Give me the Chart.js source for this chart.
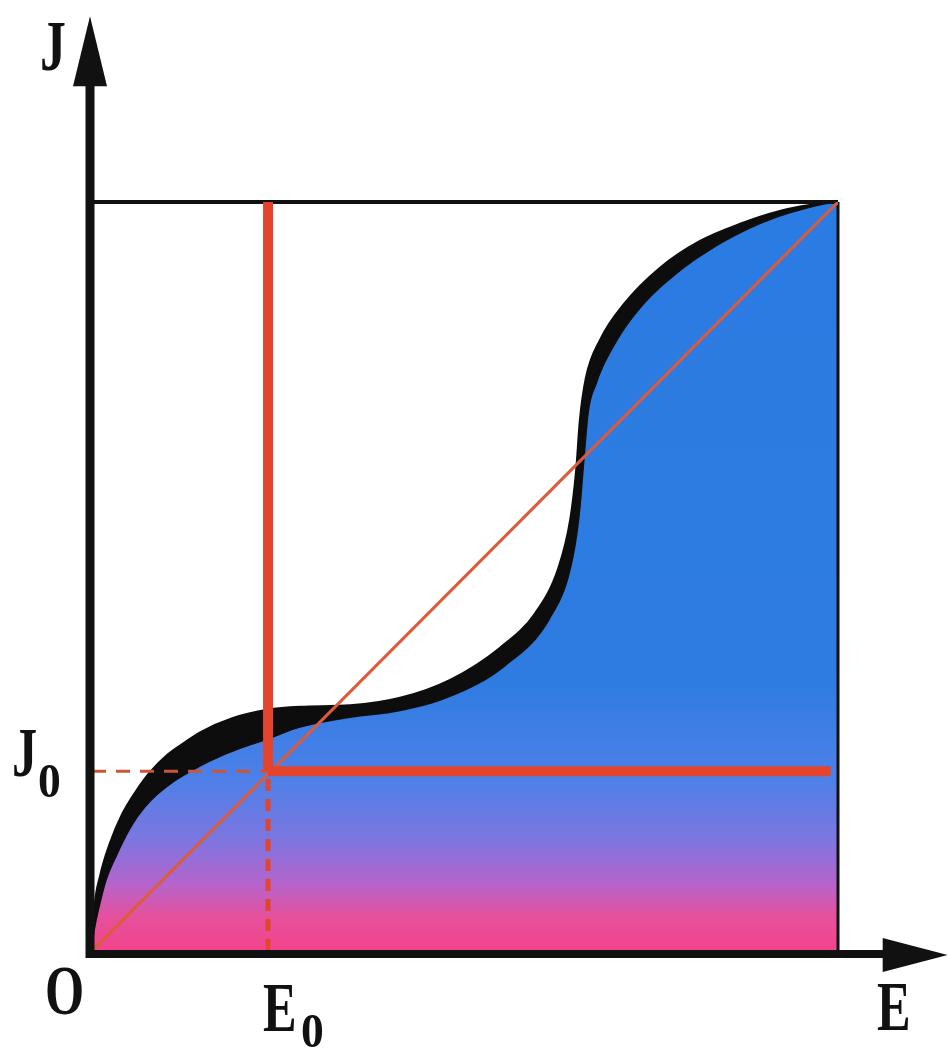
<!DOCTYPE html>
<html>
<head>
<meta charset="utf-8">
<script src="https://cdn.jsdelivr.net/npm/chart.js@4.4.1/dist/chart.umd.min.js"></script>
<style>
  html, body { margin: 0; padding: 0; background: #fff; }
  #wrap { width: 948px; height: 1050px; position: relative; }
</style>
</head>
<body>
<div id="wrap"><canvas id="mycanvas"></canvas></div>
<script>
// operating point
const E0 = 0.236;
const J0 = 0.24;

// outer (black) edge of the J(E) curve
const outerE = [0, 0.003, 0.011, 0.024, 0.040, 0.058, 0.078, 0.101, 0.125, 0.145, 0.189, 0.235, 0.279, 0.346, 0.413, 0.480, 0.547, 0.594, 0.625, 0.641, 0.649, 0.654, 0.662, 0.681, 0.714, 0.761, 0.815, 0.869, 0.922, 0.962, 1];
const outerJ = [0, 0.055, 0.101, 0.144, 0.182, 0.212, 0.239, 0.262, 0.279, 0.292, 0.311, 0.322, 0.326, 0.328, 0.338, 0.362, 0.405, 0.451, 0.511, 0.576, 0.642, 0.709, 0.765, 0.816, 0.865, 0.912, 0.948, 0.971, 0.988, 0.996, 1];

// inner (blue) edge of the curve
const innerE = [0, 0.004, 0.011, 0.020, 0.034, 0.051, 0.071, 0.101, 0.145, 0.189, 0.235, 0.279, 0.346, 0.413, 0.480, 0.554, 0.614, 0.643, 0.654, 0.660, 0.666, 0.677, 0.701, 0.739, 0.784, 0.828, 0.873, 0.918, 0.962, 1];
const innerJ = [0, 0.028, 0.061, 0.095, 0.128, 0.162, 0.191, 0.219, 0.246, 0.266, 0.282, 0.298, 0.311, 0.320, 0.339, 0.380, 0.443, 0.514, 0.582, 0.652, 0.718, 0.758, 0.809, 0.862, 0.904, 0.935, 0.960, 0.979, 0.992, 1];

const tickLabels = ['O', 'E', 'J'];
const subLabels = [['E', '0'], ['J', '0']];

function pts(xs, ys) {
    let out = [];
    for (let i in xs) out.push({x: xs[i], y: ys[i]});
    return out;
}

const red = 'rgb(228, 68, 44)';

let chartdata = {
    datasets: [
        {
            label: 'vertical E0',
            data: [{x: E0, y: J0}, {x: E0, y: 1}],
            borderColor: red, borderWidth: 10, borderCapStyle: 'butt',
            pointRadius: 0, fill: false, order: 1
        },
        {
            label: 'horizontal J0',
            data: [{x: E0, y: J0}, {x: 0.99, y: J0}],
            borderColor: red, borderWidth: 10, borderCapStyle: 'butt',
            pointRadius: 0, fill: false, order: 1
        },
        {
            label: 'dash E0',
            data: [{x: E0, y: 0}, {x: E0, y: J0}],
            borderColor: 'rgb(225, 70, 45)', borderWidth: 5, borderDash: [12, 8],
            pointRadius: 0, fill: false, order: 2
        },
        {
            label: 'dash J0',
            data: [{x: 0, y: J0}, {x: E0, y: J0}],
            borderColor: 'rgb(205, 85, 55)', borderWidth: 3, borderDash: [14, 10],
            pointRadius: 0, fill: false, order: 2
        },
        {
            label: 'diagonal',
            data: [{x: 0, y: 0}, {x: 1, y: 1}],
            borderColor: 'rgb(218, 92, 60)', borderWidth: 3,
            pointRadius: 0, fill: false, order: 3
        },
        {
            label: 'box top',
            data: [{x: 0, y: 1}, {x: 1, y: 1}],
            borderColor: '#111', borderWidth: 4,
            pointRadius: 0, fill: false, order: 4, clip: false
        },
        {
            label: 'box right',
            data: [{x: 1, y: 0}, {x: 1, y: 1}],
            borderColor: '#111', borderWidth: 3,
            pointRadius: 0, fill: false, order: 4, clip: false
        },
        {
            label: 'inner',
            data: pts(innerE, innerJ),
            borderWidth: 0,
            borderColor: 'rgba(0,0,0,0)',
            cubicInterpolationMode: 'monotone',
            pointRadius: 0,
            fill: 'origin',
            backgroundColor: function(context) {
                const chart = context.chart;
                const area = chart.chartArea;
                if (!area) return '#2b7de2';
                let g = chart.ctx.createLinearGradient(0, area.top, 0, area.bottom);
                g.addColorStop(0, '#2a7be2');
                g.addColorStop(0.64, '#2e7ce1');
                g.addColorStop(0.77, '#4d80e8');
                g.addColorStop(0.85, '#7c76e0');
                g.addColorStop(0.91, '#b464cc');
                g.addColorStop(0.955, '#e6509c');
                g.addColorStop(1, '#f4448c');
                return g;
            },
            order: 5
        },
        {
            label: 'outer',
            data: pts(outerE, outerJ),
            borderWidth: 2,
            borderColor: '#0d0d0d',
            backgroundColor: '#0d0d0d',
            cubicInterpolationMode: 'monotone',
            pointRadius: 0,
            fill: 'origin',
            order: 6
        }
    ]
};

const axesPlugin = {
    id: 'axesPlugin',
    afterDatasetsDraw(chart) {
        const ctx = chart.ctx;
        const xs = chart.scales.x, ys = chart.scales.y;
        const ox = xs.getPixelForValue(0) - 2;
        const oy = ys.getPixelForValue(0) + 3;
        const topTip = ys.getPixelForValue(1.248);
        const rightTip = xs.getPixelForValue(1.147);

        ctx.save();
        ctx.fillStyle = '#111';
        ctx.strokeStyle = '#111';
        ctx.lineWidth = 9;
        ctx.beginPath();
        ctx.moveTo(ox, oy + 4);
        ctx.lineTo(ox, topTip + 68);
        ctx.stroke();
        ctx.lineWidth = 8;
        ctx.beginPath();
        ctx.moveTo(ox - 4, oy);
        ctx.lineTo(rightTip - 62, oy);
        ctx.stroke();

        // arrow heads
        ctx.beginPath();
        ctx.moveTo(ox, topTip);
        ctx.lineTo(ox - 17, topTip + 70);
        ctx.lineTo(ox + 17, topTip + 70);
        ctx.closePath();
        ctx.fill();
        ctx.beginPath();
        ctx.moveTo(rightTip, oy + 1);
        ctx.lineTo(rightTip - 65, oy - 16);
        ctx.lineTo(rightTip - 65, oy + 18);
        ctx.closePath();
        ctx.fill();

        // labels, squeezed like the original lettering
        function label(text, x, y, size, squeeze) {
            ctx.save();
            ctx.translate(x, y);
            ctx.scale(squeeze, 1);
            ctx.font = 'bold ' + size + 'px "Liberation Serif", "DejaVu Serif", serif';
            ctx.textAlign = 'left';
            ctx.textBaseline = 'alphabetic';
            ctx.fillText(text, 0, 0);
            ctx.restore();
        }
        const xE0 = xs.getPixelForValue(E0);
        const yJ0 = ys.getPixelForValue(J0);
        label(tickLabels[0], 45, 1014, 70, 0.72);
        label(tickLabels[1], 877, 1030, 70, 0.72);
        label(tickLabels[2], 40, 70, 72, 0.72);
        label(subLabels[0][0], xE0 - 5, 1031, 70, 0.72);
        label(subLabels[0][1], xE0 + 33, 1047, 48, 0.95);
        label(subLabels[1][0], 12, yJ0 + 5, 70, 0.72);
        label(subLabels[1][1], 38, yJ0 + 26, 48, 0.95);
        ctx.restore();
    }
};

let ctx = document.getElementById('mycanvas');

let graph = new Chart(ctx, {
    type: 'scatter',
    data: chartdata,
    options: {
        responsive: true,
        maintainAspectRatio: false,
        animation: false,
        showLine: true,
        layout: { padding: { left: 92, right: 110, top: 202, bottom: 99 } },
        plugins: {
            legend: { display: false },
            tooltip: { enabled: false }
        },
        scales: {
            x: { type: 'linear', min: 0, max: 1, display: false },
            y: { type: 'linear', min: 0, max: 1, display: false }
        }
    },
    plugins: [axesPlugin]
});
</script>
</body>
</html>
